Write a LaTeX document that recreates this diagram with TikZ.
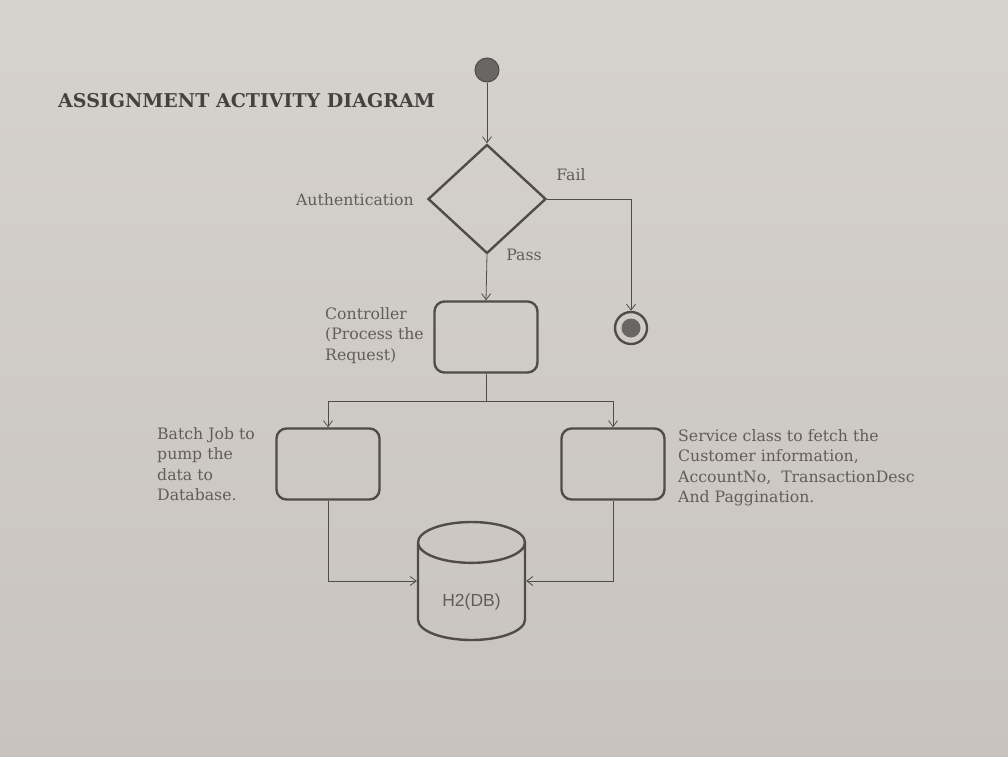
\documentclass[tikz,border=0pt]{standalone}
\usepackage{fontspec}
\setmainfont{DejaVu Serif}
\setsansfont{Liberation Sans}
\usetikzlibrary{positioning, arrows.meta, shapes.geometric}
\definecolor{papertop}{RGB}{214,210,206}
\definecolor{paperbot}{RGB}{200,195,191}
\definecolor{ink}{RGB}{80,76,74}
\definecolor{textgray}{RGB}{98,93,90}
\definecolor{dotgray}{RGB}{105,102,101}

\tikzset{
  flow/.style={draw=ink, line width=0.8pt, -{Straight Barb[length=6pt,width=9pt]}},
  link/.style={draw=ink, line width=0.8pt},
  actbox/.style={draw=ink, line width=2.4pt, rounded corners=10pt, minimum width=103pt, minimum height=71pt, inner sep=0pt},
  note/.style={text=textgray, font=\fontsize{15.7}{20.5}\selectfont, align=left, inner sep=0pt},
}

\begin{document}
\begin{tikzpicture}[x=1pt, y=-1pt]
  % paper
  \shade[top color=papertop, bottom color=paperbot] (0,0) rectangle (1008,756);
  \useasboundingbox (0,0) rectangle (1008,756);

  % title
  \node[text=ink!85!black, font=\bfseries\fontsize{19}{19}\selectfont, anchor=west, inner sep=0pt] (title) at (58,101) {ASSIGNMENT ACTIVITY DIAGRAM};

  % start and end
  \node[circle, draw=ink, line width=1pt, fill=dotgray, minimum size=24pt, inner sep=0pt] (start) at (487,70) {};
  \node[circle, draw=ink, line width=2.4pt, minimum size=32pt, inner sep=0pt,
        path picture={\fill[dotgray] (path picture bounding box.center) circle (9.5pt);}] (final) at (631,328) {};

  % decision
  \node[diamond, draw=ink, line width=2.4pt, minimum width=118pt, minimum height=109pt, inner sep=0pt] (auth) at (487,199) {};
  \node[note, anchor=east] (authlbl) at (414,200) {Authentication};
  \node[note] (faillbl) at (571,175) {Fail};
  \node[note] (passlbl) at (524,255) {Pass};

  % activities
  \node[actbox] (ctrl) at (486,337) {};
  \node[actbox] (batch) at (328,464) {};
  \node[actbox] (service) at (613,464) {};
  \node[note, anchor=north west] (ctrllbl) at (325,307) {Controller\\(Process the\\Request)};
  \node[note, anchor=north west] (batchlbl) at (157,427) {Batch Job to\\pump the\\data to\\Database.};
  \node[note, anchor=north west] (servicelbl) at (678,429) {Service class to fetch the\\Customer information,\\AccountNo,~~TransactionDesc\\And Paggination.};

  % database
  \node[cylinder, shape border rotate=90, draw=ink, line width=2.4pt, aspect=0.7,
        minimum width=107pt, minimum height=118pt, inner sep=0pt, anchor=shape center,
        text=textgray, font=\sffamily\fontsize{17.5}{17.5}\selectfont] (db) at (471.5,581) {\raisebox{-15pt}[0pt][0pt]{H2(DB)}};

  % connectors
  \draw[flow] (start) -- (auth);
  \draw[flow] (auth.east) -| (final.north);
  \draw[flow] (auth.south) -- (ctrl.north);
  \draw[link] (ctrl.south) -- ++(0,28) coordinate (split);
  \draw[flow] (split) -| (batch.north);
  \draw[flow] (split) -| (service.north);
  \draw[flow] (batch.south) |- (db.west |- db.shape center);
  \draw[flow] (service.south) |- (db.east |- db.shape center);
\end{tikzpicture}
\end{document}
